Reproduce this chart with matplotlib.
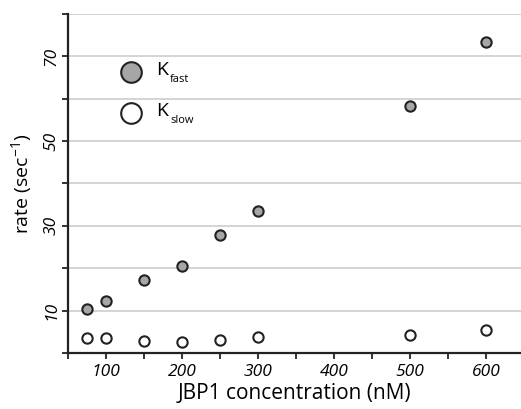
import matplotlib
matplotlib.use("Agg")
import matplotlib.pyplot as plt
from matplotlib.ticker import MultipleLocator

# JBP1 concentration (nM)
conc = [75, 100, 150, 200, 250, 300, 500, 600]
# rates (sec^-1)
k_fast = [10.4, 12.2, 17.2, 20.5, 27.8, 33.6, 58.3, 73.3]
k_slow = [3.5, 3.5, 2.8, 2.7, 3.1, 3.8, 4.2, 5.4]

x_ticks = [100, 200, 300, 400, 500, 600]
y_ticks = [10, 30, 50, 70]

plt.rcParams['font.family'] = ['Open Sans', 'DejaVu Sans']

fig = plt.figure(figsize=(5.21, 4.09), dpi=100)
ax = fig.add_axes([0.1305, 0.137, 0.8695, 0.829])

ax.set_xlim(50, 646)
ax.set_ylim(0, 80)

# grid
ax.yaxis.set_minor_locator(MultipleLocator(10))
for v in range(10, 90, 10):
    ax.axhline(v, color='#d4d4d4', lw=1.4, zorder=0)

ax.scatter(conc, k_fast, s=55, facecolor='#a6a6a6', edgecolor='#222222', linewidth=1.5, zorder=3)
ax.scatter(conc, k_slow, s=55, facecolor='white', edgecolor='#222222', linewidth=1.5, zorder=3)

ax.set_xticks(x_ticks)
ax.set_xticklabels([str(t) for t in x_ticks], fontstyle='italic', fontsize=12.5)
ax.xaxis.set_minor_locator(MultipleLocator(50))
ax.set_yticks(y_ticks)
ax.set_yticklabels([str(t) for t in y_ticks], fontstyle='italic', fontsize=12.5,
                   rotation=90, va='center')

ax.tick_params(axis='both', which='both', direction='out', length=4, width=1.3, color='#222222')
ax.tick_params(axis='y', pad=2)
ax.tick_params(axis='x', pad=4)

for side in ['top', 'right']:
    ax.spines[side].set_visible(False)
for side in ['left', 'bottom']:
    ax.spines[side].set_linewidth(1.6)
    ax.spines[side].set_color('#222222')

ax.set_xlabel('JBP1 concentration (nM)', fontsize=15, labelpad=2)
ax.set_ylabel('rate (sec$^{\\mathregular{-1}}$)', fontsize=14, labelpad=6)

# legend drawn by hand in axes coordinates
ax.scatter([0.138], [0.828], s=220, transform=ax.transAxes, facecolor='#a6a6a6',
           edgecolor='#222222', linewidth=1.5, clip_on=False, zorder=4)
ax.scatter([0.138], [0.707], s=220, transform=ax.transAxes, facecolor='white',
           edgecolor='#222222', linewidth=1.5, clip_on=False, zorder=4)
ax.text(0.195, 0.835, 'K', transform=ax.transAxes, fontsize=14, va='center')
ax.text(0.225, 0.808, 'fast', transform=ax.transAxes, fontsize=8, va='center')
ax.text(0.195, 0.714, 'K', transform=ax.transAxes, fontsize=14, va='center')
ax.text(0.225, 0.687, 'slow', transform=ax.transAxes, fontsize=8, va='center')

fig.savefig('out.png', dpi=100)
